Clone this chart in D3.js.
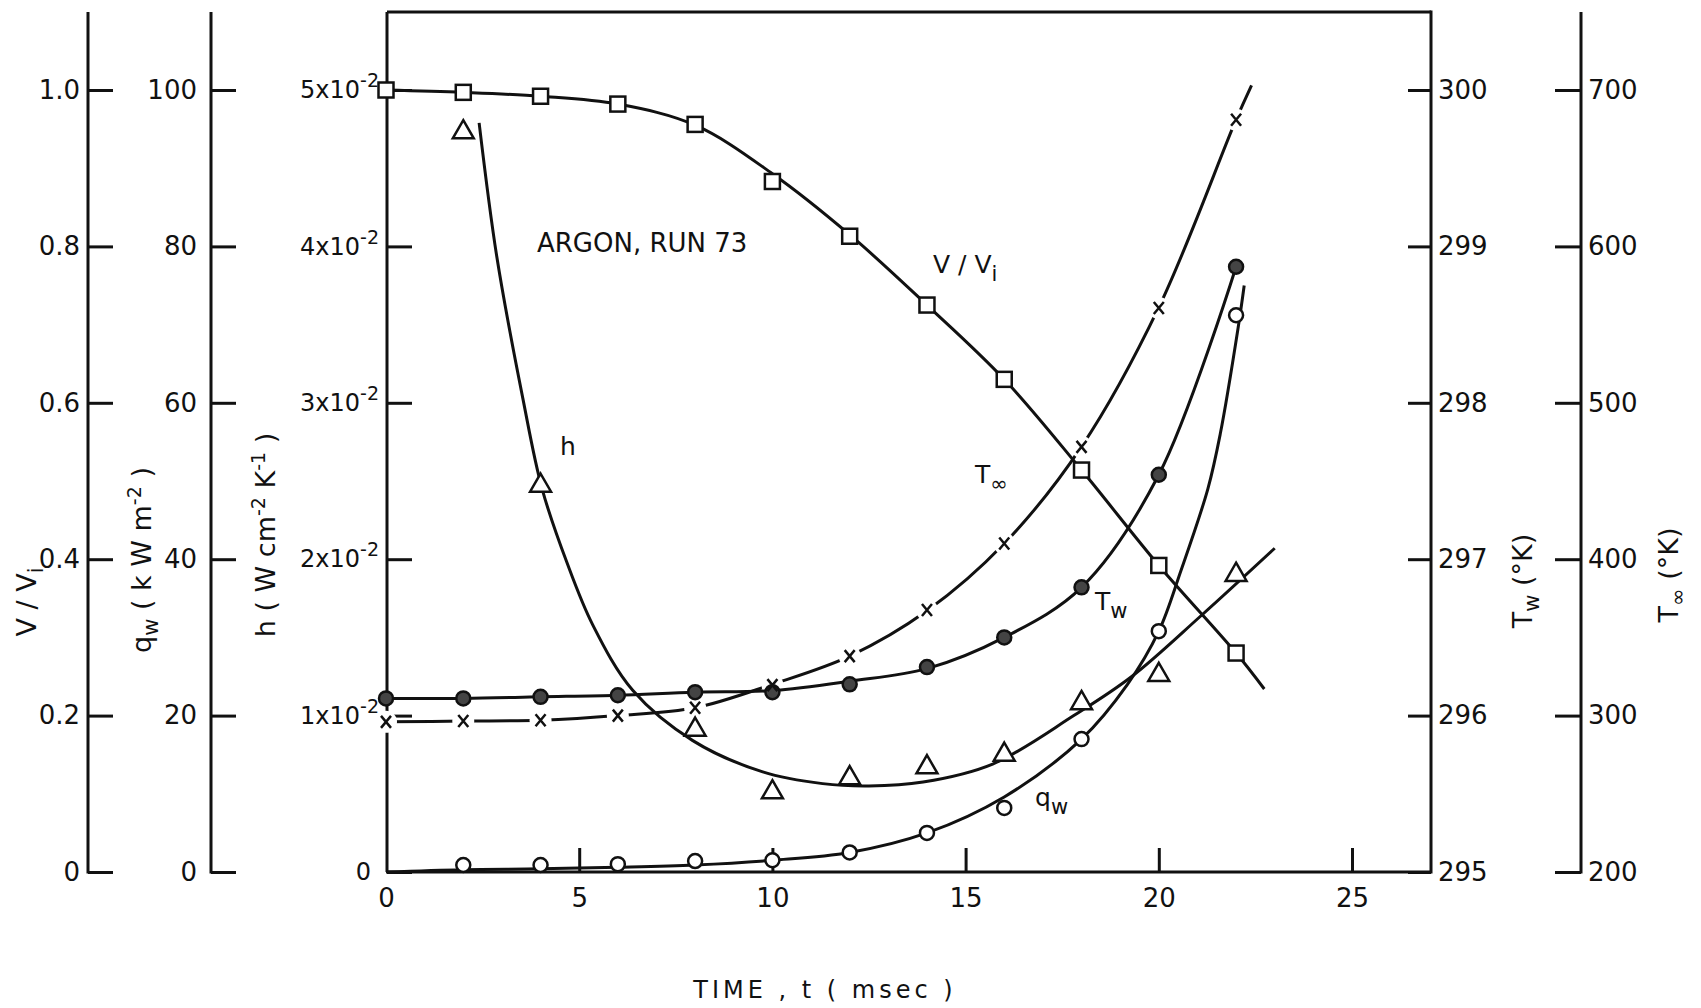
<!DOCTYPE html>
<html>
<head>
<meta charset="utf-8">
<script src="https://cdn.jsdelivr.net/npm/d3@7"></script>
<style>
  body { margin: 0; background: #fff; }
  text { font-family: "DejaVu Sans", sans-serif; fill: #111; }
</style>
</head>
<body>
<div id="chart"></div>
<script>
// ticks
const tTicks = [0, 5, 10, 15, 20, 25];
const vTicks = [0, 0.2, 0.4, 0.6, 0.8, 1.0];
const qTicks = [0, 20, 40, 60, 80, 100];
const hTicks = [0, 1, 2, 3, 4, 5];          // x 10^-2
const twTicks = [295, 296, 297, 298, 299, 300];
const tinfTicks = [200, 300, 400, 500, 600, 700];

// measured points
const tPts = [0, 2, 4, 6, 8, 10, 12, 14, 16, 18, 20, 22];
const vPts = [1.0, 0.997, 0.992, 0.982, 0.956, 0.883, 0.813, 0.725, 0.630, 0.514, 0.392, 0.280];
const twPts = [296.11, 296.11, 296.12, 296.13, 296.15, 296.15, 296.2, 296.31, 296.5, 296.82, 297.54, 298.87];
const tinfPts = [296, 296.5, 297, 300, 305, 319.5, 338, 367.5, 410, 471.8, 560.6, 681];
const qT = [2, 4, 6, 8, 10, 12, 14, 16, 18, 20, 22];
const qPts = [0.9, 0.9, 1.0, 1.4, 1.5, 2.5, 5.0, 8.2, 17.0, 30.8, 71.2];
const hT = [2, 4, 8, 10, 12, 14, 16, 18, 20, 22];
const hPts = [4.73, 2.47, 0.91, 0.51, 0.60, 0.67, 0.75, 1.08, 1.26, 1.90];

// fitted curves
const vCurveT = [0, 2, 4, 6, 8, 10, 12, 14, 16, 18, 20, 22, 22.73];
const vCurve = [1.0, 0.997, 0.992, 0.982, 0.955, 0.893, 0.815, 0.725, 0.63, 0.514, 0.392, 0.28, 0.234];
const twCurveT = [0, 2, 4, 6, 8, 10, 12, 14, 16, 18, 20, 22];
const twCurve = [296.11, 296.11, 296.12, 296.13, 296.15, 296.16, 296.22, 296.3, 296.5, 296.82, 297.54, 298.87];
const tinfCurveT = [0, 2, 4, 6, 8, 10, 12, 14, 16, 18, 20, 22, 22.4];
const tinfCurve = [296, 296.5, 297, 300, 305, 320, 338, 367, 410, 472, 561, 681, 703];
const qCurveT = [0, 2, 4, 6, 8, 10, 12, 14, 16, 18, 19.19, 20, 20.57, 21.27, 21.59, 22.05, 22.21];
const qCurve = [0, 0.3, 0.4, 0.6, 0.9, 1.5, 2.5, 5.0, 9.6, 17, 24, 30.8, 38.5, 49, 56, 69.5, 75];
const hCurveT = [2.41, 2.87, 3.54, 4.04, 4.68, 5.35, 6.39, 7.94, 9.75, 11.3, 12.5, 13.9, 15.7, 17.8, 19.3, 21.1, 23.0];
const hCurve = [4.79, 3.93, 3.03, 2.45, 1.98, 1.58, 1.16, 0.84, 0.64, 0.565, 0.55, 0.575, 0.69, 1.0, 1.25, 1.64, 2.07];

const W = 1701, H = 1008;
const yBot = 872, yTop = 90, frameTop = 12;

const x = d3.scaleLinear().domain([0, 25]).range([386, 1352]);
const yV = d3.scaleLinear().domain([0, 1]).range([yBot, yTop]);
const yQ = d3.scaleLinear().domain([0, 100]).range([yBot, yTop]);
const yH = d3.scaleLinear().domain([0, 5]).range([yBot, yTop]);
const yTw = d3.scaleLinear().domain([295, 300]).range([yBot, yTop]);
const yTi = d3.scaleLinear().domain([200, 700]).range([yBot, yTop]);

const svg = d3.select("#chart").append("svg")
    .attr("width", W)
    .attr("height", H);

const ink = "#111";

function styleAxis(g) {
    g.select(".domain").remove();
    g.selectAll(".tick line").attr("stroke", ink).attr("stroke-width", 3);
    g.selectAll(".tick text").attr("font-size", 26).attr("fill", ink);
}

function spine(xp, y1, y2) {
    svg.append("line")
        .attr("x1", xp).attr("x2", xp)
        .attr("y1", y1).attr("y2", y2)
        .attr("stroke", ink).attr("stroke-width", 3);
}

// left axes
svg.append("g")
    .attr("transform", "translate(88,0)")
    .call(d3.axisLeft(yV).tickValues(vTicks).tickSizeInner(-25).tickSizeOuter(0).tickPadding(8)
        .tickFormat(d => d === 0 ? "0" : d3.format(".1f")(d)))
    .call(styleAxis);
spine(88, frameTop, yBot + 1.5);

svg.append("g")
    .attr("transform", "translate(211,0)")
    .call(d3.axisLeft(yQ).tickValues(qTicks).tickSizeInner(-25).tickSizeOuter(0).tickPadding(14))
    .call(styleAxis);
spine(211, frameTop, yBot + 1.5);

const hAxis = svg.append("g")
    .attr("transform", "translate(387,0)")
    .call(d3.axisLeft(yH).tickValues(hTicks).tickSizeInner(-25).tickSizeOuter(0).tickPadding(8))
    .call(styleAxis);
hAxis.selectAll(".tick text").each(function(d) {
    const t = d3.select(this).text("").attr("font-size", 24);
    if (d === 0) { t.attr("x", -16).text("0"); return; }
    t.append("tspan").text(d + "x10");
    t.append("tspan").attr("dy", -11).attr("font-size", 19).text("-2");
});
spine(387, frameTop, yBot);

// right axes
svg.append("g")
    .attr("transform", "translate(1431,0)")
    .call(d3.axisRight(yTw).tickValues(twTicks).tickSizeInner(-23).tickSizeOuter(0).tickPadding(7)
        .tickFormat(d3.format("d")))
    .call(styleAxis);
spine(1431, frameTop - 1.5, yBot + 1.5);

svg.append("g")
    .attr("transform", "translate(1581,0)")
    .call(d3.axisRight(yTi).tickValues(tinfTicks).tickSizeInner(-26).tickSizeOuter(0).tickPadding(7)
        .tickFormat(d3.format("d")))
    .call(styleAxis);
spine(1581, frameTop, yBot + 1.5);

// frame top and bottom axis
svg.append("line")
    .attr("x1", 387).attr("x2", 1431).attr("y1", frameTop).attr("y2", frameTop)
    .attr("stroke", ink).attr("stroke-width", 3);

svg.append("g")
    .attr("transform", `translate(0,${yBot})`)
    .call(d3.axisBottom(x).tickValues(tTicks).tickSizeInner(-24).tickSizeOuter(0).tickPadding(17))
    .call(styleAxis)
    .call(g => g.selectAll(".tick").filter(d => d === 0).select("line").remove());
svg.append("line")
    .attr("x1", 387).attr("x2", 1431).attr("y1", yBot).attr("y2", yBot)
    .attr("stroke", ink).attr("stroke-width", 3);

// axis titles
function rotLabel(cx, cy, parts) {
    const t = svg.append("text")
        .attr("transform", `translate(${cx},${cy}) rotate(-90)`)
        .attr("text-anchor", "middle")
        .attr("font-size", 27);
    parts.forEach(p => {
        const s = t.append("tspan").text(p[0]);
        if (p[1]) s.attr("dy", p[1]);
        if (p[2]) s.attr("font-size", p[2]);
    });
}
rotLabel(36, 602, [["V / V"], ["i", 7, 21], ["", -7]]);
rotLabel(151, 560, [["q"], ["w", 7, 21], [" ( k W m", -7], ["-2", -10, 19], [" )", 10]]);
rotLabel(275, 535, [["h ( W cm"], ["-2", -10, 19], [" K", 10], ["-1", -10, 19], [" )", 10]]);
rotLabel(1532, 581, [["T"], ["w", 7, 21], [" (°K)", -7]]);
rotLabel(1678, 575, [["T"], ["∞", 7, 21], [" (°K)", -7]]);

svg.append("text")
    .attr("x", 825).attr("y", 998)
    .attr("text-anchor", "middle")
    .attr("font-size", 24)
    .attr("letter-spacing", 4)
    .text("TIME , t ( msec )");

// series lines
const mkLine = ys => d3.line()
    .x(d => x(d[0]))
    .y(d => ys(d[1]))
    .curve(d3.curveCatmullRom.alpha(0.5));

const zip = (a, b) => a.map((v, i) => [v, b[i]]);

function drawLine(ts, vs, ys) {
    svg.append("path")
        .datum(zip(ts, vs))
        .attr("fill", "none")
        .attr("stroke", ink)
        .attr("stroke-width", 3)
        .attr("d", mkLine(ys));
}

// T-infinity first, with gaps round its crosses
drawLine(tinfCurveT, tinfCurve, yTi);
svg.selectAll("circle.gap")
    .data(zip(tPts, tinfPts))
    .join("circle")
    .attr("class", "gap")
    .attr("cx", d => x(d[0]))
    .attr("cy", d => yTi(d[1]))
    .attr("r", 11)
    .attr("fill", "#fff");

drawLine(vCurveT, vCurve, yV);
drawLine(twCurveT, twCurve, yTw);
drawLine(qCurveT, qCurve, yQ);
drawLine(hCurveT, hCurve, yH);

// markers
svg.selectAll("rect.vv")
    .data(zip(tPts, vPts))
    .join("rect")
    .attr("class", "vv")
    .attr("x", d => x(d[0]) - 7.5)
    .attr("y", d => yV(d[1]) - 7.5)
    .attr("width", 15).attr("height", 15)
    .attr("fill", "#fff").attr("stroke", ink).attr("stroke-width", 2.5);

svg.selectAll("path.hh")
    .data(zip(hT, hPts))
    .join("path")
    .attr("class", "hh")
    .attr("transform", d => `translate(${x(d[0])},${yH(d[1])})`)
    .attr("d", d3.symbol(d3.symbolTriangle, 190))
    .attr("fill", "#fff").attr("stroke", ink).attr("stroke-width", 2.5);

svg.selectAll("circle.qq")
    .data(zip(qT, qPts))
    .join("circle")
    .attr("class", "qq")
    .attr("cx", d => x(d[0]))
    .attr("cy", d => yQ(d[1]))
    .attr("r", 7)
    .attr("fill", "#fff").attr("stroke", ink).attr("stroke-width", 2.5);

svg.selectAll("circle.tw")
    .data(zip(tPts, twPts))
    .join("circle")
    .attr("class", "tw")
    .attr("cx", d => x(d[0]))
    .attr("cy", d => yTw(d[1]))
    .attr("r", 7)
    .attr("fill", "#444").attr("stroke", ink).attr("stroke-width", 2.5);

svg.selectAll("path.ti")
    .data(zip(tPts, tinfPts))
    .join("path")
    .attr("class", "ti")
    .attr("transform", d => `translate(${x(d[0])},${yTi(d[1])})`)
    .attr("d", "M-5,-6L5,6M5,-6L-5,6")
    .attr("fill", "none").attr("stroke", ink).attr("stroke-width", 2.5);

// in-plot labels
svg.append("text").attr("x", 537).attr("y", 252).attr("font-size", 26).text("ARGON, RUN 73");

function subLabel(px, py, main, sub) {
    const t = svg.append("text").attr("x", px).attr("y", py).attr("font-size", 25);
    t.append("tspan").text(main);
    t.append("tspan").attr("dy", 8).attr("font-size", 21).text(sub);
}
subLabel(933, 273, "V / V", "i");
subLabel(975, 483, "T", "∞");
subLabel(1095, 610, "T", "w");
svg.append("text").attr("x", 560).attr("y", 455).attr("font-size", 25).text("h");
subLabel(1035, 806, "q", "w");
</script>
</body>
</html>
